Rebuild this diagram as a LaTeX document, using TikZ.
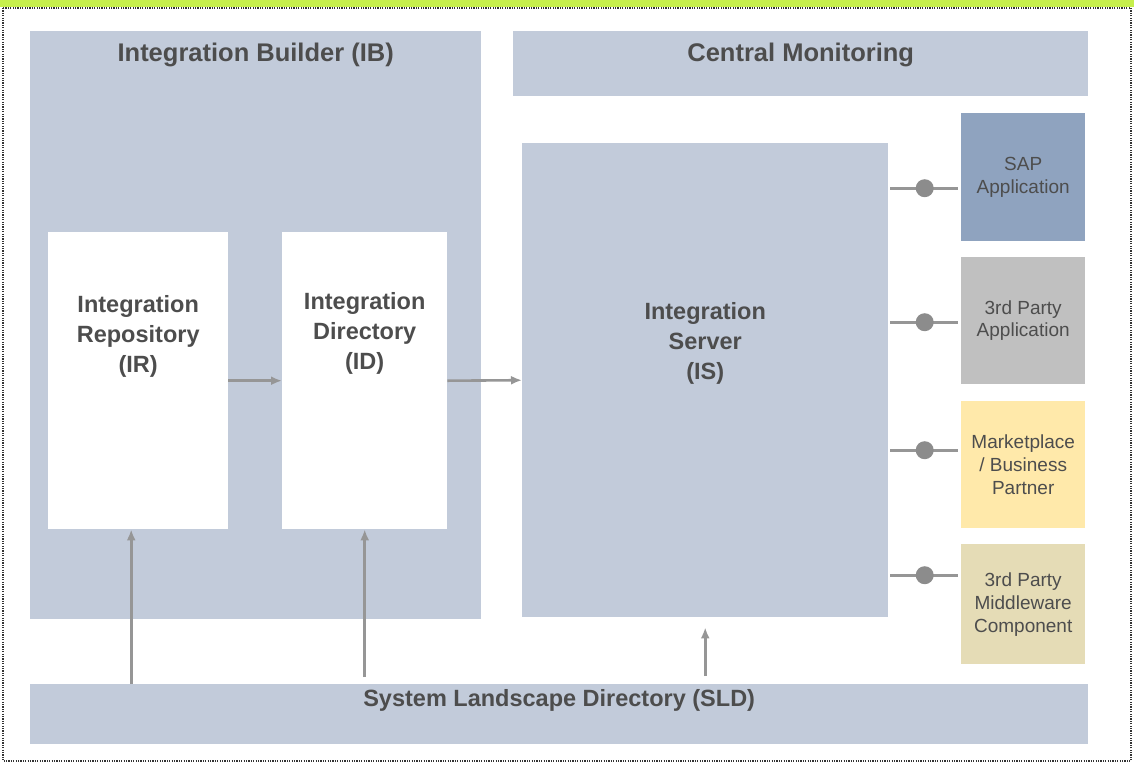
\documentclass[tikz,border=0pt]{standalone}
\usepackage{fontspec}
\setmainfont{Liberation Sans}
\usepackage{xcolor}
\usetikzlibrary{arrows.meta}

\definecolor{panelblue}{RGB}{194,203,218}
\definecolor{sapblue}{RGB}{143,163,191}
\definecolor{partygray}{RGB}{192,192,192}
\definecolor{marketyellow}{RGB}{255,233,170}
\definecolor{middlesand}{RGB}{229,220,182}
\definecolor{linegray}{RGB}{150,150,150}
\definecolor{dotgray}{RGB}{140,140,140}
\definecolor{textgray}{RGB}{77,77,77}
\definecolor{framegreen}{RGB}{198,239,76}

\begin{document}
\begin{tikzpicture}[x=1pt,y=-1pt,
    panel/.style={fill=panelblue, inner sep=0pt, anchor=north west},
    whitebox/.style={fill=white, inner sep=0pt, anchor=north west,
                     minimum width=180pt, minimum height=297pt},
    sysbox/.style={inner sep=0pt, anchor=north west, align=center,
                   minimum width=124pt, text=textgray,
                   font=\fontsize{19}{22.5}\selectfont},
    title/.style={text=textgray, font=\bfseries\fontsize{25.5}{30}\selectfont},
    boxtext/.style={text=textgray, align=center,
                    font=\bfseries\fontsize{23.5}{30}\selectfont},
    flow/.style={draw=linegray, line width=2.6pt,
                 -{Latex[length=11pt,width=9pt]}},
    link/.style={draw=linegray, line width=2.6pt},
    dot/.style={circle, fill=dotgray, inner sep=0pt, minimum size=18pt}]

  \useasboundingbox (0,0) rectangle (1134,764);
  \fill[framegreen] (0,0) rectangle (1134,7);
  \draw[black!80, line width=1.6pt, dash pattern=on 1.2pt off 1.2pt]
        (3,8) rectangle (1131,761);

  % panels
  \node[panel, minimum width=451pt, minimum height=588pt,
        label={[title, anchor=north, yshift=-8pt]north:Integration Builder (IB)}]
        (ib) at (30,31) {};
  \node[panel, minimum width=575pt, minimum height=65pt,
        label={[title, anchor=north, yshift=-8pt]north:Central Monitoring}]
        (cm) at (513,31) {};
  \node[panel, minimum width=1058pt, minimum height=60pt,
        label={[title, font=\bfseries\fontsize{23.5}{30}\selectfont,
                anchor=center, yshift=14pt]center:System Landscape Directory (SLD)}]
        (sld) at (30,684) {};

  % builder parts and server
  \node[whitebox,
        label={[boxtext, yshift=44pt]center:Integration\\Repository\\(IR)}]
        (ir) at (48,232) {};
  \node[whitebox, minimum width=165pt,
        label={[boxtext, yshift=47pt]center:Integration\\Directory\\(ID)}]
        (id) at (282,232) {};
  \node[panel, minimum width=366pt, minimum height=474pt,
        label={[boxtext, yshift=37pt]center:Integration\\Server\\(IS)}]
        (is) at (522,143) {};

  % connected systems
  \node[sysbox, fill=sapblue, minimum height=128pt] (sap) at (961,113)
        {SAP\\Application};
  \node[sysbox, fill=partygray, minimum height=127pt] (tpa) at (961,257)
        {3rd Party\\Application};
  \node[sysbox, fill=marketyellow, minimum height=127pt,
        font=\fontsize{19}{23}\selectfont] (mkt) at (961,401)
        {Marketplace\\/ Business\\Partner};
  \node[sysbox, fill=middlesand, minimum height=120pt,
        font=\fontsize{19}{23}\selectfont] (mid) at (961,544)
        {3rd Party\\Middleware\\Component};

  % flows
  \draw[flow] (ir.east) -- (id.west);
  \draw[flow] (id.east) -- (is.west);
  \draw[flow] ([xshift=-7pt]sld.north -| ir.south) -- ([xshift=-7pt]ir.south);
  \draw[flow] ([yshift=7pt]sld.north -| id.south) -- (id.south);
  \draw[flow] ([yshift=8pt]sld.north -| is.south) -- ([yshift=-10pt]is.south);

  % links to systems
  \draw[link, shorten <=2pt, shorten >=3pt] ([yshift=-11pt]is.east |- sap.west)
        -- ([yshift=-11pt]sap.west) node[midway, dot] {};
  \draw[link, shorten <=2pt, shorten >=3pt] ([yshift=-1.5pt]is.east |- tpa.west)
        -- ([yshift=-1.5pt]tpa.west) node[midway, dot] {};
  \draw[link, shorten <=2pt, shorten >=3pt] ([yshift=14.5pt]is.east |- mkt.west)
        -- ([yshift=14.5pt]mkt.west) node[midway, dot] {};
  \draw[link, shorten <=2pt, shorten >=3pt] ([yshift=29pt]is.east |- mid.west)
        -- ([yshift=29pt]mid.west) node[midway, dot] {};
\end{tikzpicture}
\end{document}
